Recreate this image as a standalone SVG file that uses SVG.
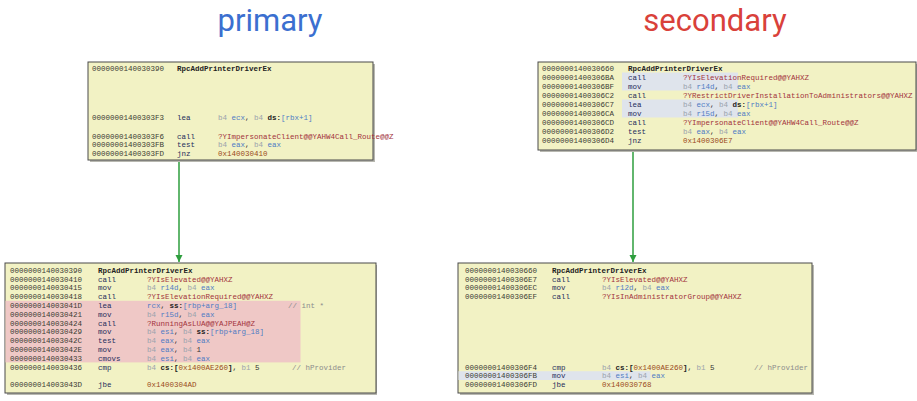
<svg xmlns="http://www.w3.org/2000/svg" width="917" height="401" viewBox="0 0 917 401">
<style>
.title{font-family:Roboto,"Open Sans",sans-serif;font-size:31px;text-anchor:middle}
.t{font-family:"Liberation Mono","DejaVu Sans Mono",monospace;font-size:7.5px}
.a{fill:#3c3c34}
.h{fill:#222;font-weight:bold}
.m{fill:#1f2d5c}
.g{fill:#9aa3ad}
.r{fill:#4f7cc4}
.k{fill:#222;font-weight:bold}
.f{fill:#a3333c}
.j{fill:#9a4a20}
.c{fill:#8c8c8c}
.n{fill:#333}
.box{fill:#f2f2c4;stroke:#4a4a4a;stroke-width:1}
.shadow{fill:#b8b8b0}
.conn{stroke:#2e9e3e;stroke-width:1.5;fill:none}
</style>
<defs>
<marker id="arr" viewBox="0 0 10 10" refX="10" refY="5" markerWidth="5" markerHeight="5" orient="auto">
<path d="M0,0 L10,5 L0,10 z" fill="#2e9e3e"/>
</marker>
</defs>
<rect width="917" height="401" fill="#ffffff"/>
<text class="title" x="270" y="31" fill="#3b6fd0">primary</text>
<text class="title" x="715" y="31" fill="#d9413a">secondary</text>

<g id="connectors">
<line class="conn" x1="179" y1="160" x2="179" y2="262" marker-end="url(#arr)"/>
<line class="conn" x1="633" y1="150" x2="633" y2="262" marker-end="url(#arr)"/>
</g>

<g id="primary-top">
<rect class="shadow" x="90" y="64" width="285" height="98"/>
<rect class="box" x="88" y="62" width="285" height="98"/>
<g class="t">
<text x="92" y="70.7" class="a">0000000140030390</text><text x="177" y="70.7" class="h">RpcAddPrinterDriverEx</text>
<text x="92" y="119.7" class="a">00000001400303F3</text><text x="177" y="119.7" class="m">lea</text><text x="218" y="119.7"><tspan class="g">b4 </tspan><tspan class="r">ecx</tspan><tspan class="n">, </tspan><tspan class="g">b4 </tspan><tspan class="k">ds:</tspan><tspan class="r">[rbx+1]</tspan></text>
<text x="92" y="138.7" class="a">00000001400303F6</text><text x="177" y="138.7" class="m">call</text><text x="218" y="138.7" class="f">?YImpersonateClient@@YAHW4Call_Route@@Z</text>
<text x="92" y="147.3" class="a">00000001400303FB</text><text x="177" y="147.3" class="m">test</text><text x="218" y="147.3"><tspan class="g">b4 </tspan><tspan class="r">eax</tspan><tspan class="n">, </tspan><tspan class="g">b4 </tspan><tspan class="r">eax</tspan></text>
<text x="92" y="155.9" class="a">00000001400303FD</text><text x="177" y="155.9" class="m">jnz</text><text x="218" y="155.9" class="j">0x140030410</text>
</g>
</g>

<g id="secondary-top">
<rect class="shadow" x="540" y="64" width="377" height="88"/>
<rect class="box" x="538" y="62" width="378" height="88"/>
<rect x="622" y="72.5" width="116" height="18" fill="#dfe4ec"/>
<rect x="622" y="99.5" width="116" height="18" fill="#dfe4ec"/>
<g class="t">
<text x="542" y="70.7" class="a">0000000140030660</text><text x="628" y="70.7" class="h">RpcAddPrinterDriverEx</text>
<text x="542" y="79.7" class="a">00000001400306BA</text><text x="628" y="79.7" class="m">call</text><text x="683" y="79.7" class="f">?YIsElevationRequired@@YAHXZ</text>
<text x="542" y="88.7" class="a">00000001400306BF</text><text x="628" y="88.7" class="m">mov</text><text x="683" y="88.7"><tspan class="g">b4 </tspan><tspan class="r">r14d</tspan><tspan class="n">, </tspan><tspan class="g">b4 </tspan><tspan class="r">eax</tspan></text>
<text x="542" y="97.7" class="a">00000001400306C2</text><text x="628" y="97.7" class="m">call</text><text x="683" y="97.7" class="f">?YRestrictDriverInstallationToAdministrators@@YAHXZ</text>
<text x="542" y="106.7" class="a">00000001400306C7</text><text x="628" y="106.7" class="m">lea</text><text x="683" y="106.7"><tspan class="g">b4 </tspan><tspan class="r">ecx</tspan><tspan class="n">, </tspan><tspan class="g">b4 </tspan><tspan class="k">ds:</tspan><tspan class="r">[rbx+1]</tspan></text>
<text x="542" y="115.7" class="a">00000001400306CA</text><text x="628" y="115.7" class="m">mov</text><text x="683" y="115.7"><tspan class="g">b4 </tspan><tspan class="r">r15d</tspan><tspan class="n">, </tspan><tspan class="g">b4 </tspan><tspan class="r">eax</tspan></text>
<text x="542" y="124.7" class="a">00000001400306CD</text><text x="628" y="124.7" class="m">call</text><text x="683" y="124.7" class="f">?YImpersonateClient@@YAHW4Call_Route@@Z</text>
<text x="542" y="133.7" class="a">00000001400306D2</text><text x="628" y="133.7" class="m">test</text><text x="683" y="133.7"><tspan class="g">b4 </tspan><tspan class="r">eax</tspan><tspan class="n">, </tspan><tspan class="g">b4 </tspan><tspan class="r">eax</tspan></text>
<text x="542" y="142.7" class="a">00000001400306D4</text><text x="628" y="142.7" class="m">jnz</text><text x="683" y="142.7" class="j">0x1400306E7</text>
</g>
</g>

<g id="primary-bottom">
<rect class="shadow" x="7" y="265" width="370" height="130"/>
<rect class="box" x="5" y="263" width="371" height="130"/>
<rect x="5.5" y="300.8" width="295" height="61.6" fill="#efc8c6"/>
<g class="t">
<text x="10" y="272.7" class="a">0000000140030390</text><text x="98" y="272.7" class="h">RpcAddPrinterDriverEx</text>
<text x="10" y="281.5" class="a">0000000140030410</text><text x="98" y="281.5" class="m">call</text><text x="147" y="281.5" class="f">?YIsElevated@@YAHXZ</text>
<text x="10" y="290.3" class="a">0000000140030415</text><text x="98" y="290.3" class="m">mov</text><text x="147" y="290.3"><tspan class="g">b4 </tspan><tspan class="r">r14d</tspan><tspan class="n">, </tspan><tspan class="g">b4 </tspan><tspan class="r">eax</tspan></text>
<text x="10" y="299.1" class="a">0000000140030418</text><text x="98" y="299.1" class="m">call</text><text x="147" y="299.1" class="f">?YIsElevationRequired@@YAHXZ</text>
<text x="10" y="307.9" class="a">000000014003041D</text><text x="98" y="307.9" class="m">lea</text><text x="147" y="307.9"><tspan class="r">rcx</tspan><tspan class="n">, </tspan><tspan class="k">ss:</tspan><tspan class="r">[rbp+arg_18]</tspan></text><text x="288" y="307.9" class="c">// int *</text>
<text x="10" y="316.7" class="a">0000000140030421</text><text x="98" y="316.7" class="m">mov</text><text x="147" y="316.7"><tspan class="g">b4 </tspan><tspan class="r">r15d</tspan><tspan class="n">, </tspan><tspan class="g">b4 </tspan><tspan class="r">eax</tspan></text>
<text x="10" y="325.5" class="a">0000000140030424</text><text x="98" y="325.5" class="m">call</text><text x="147" y="325.5" class="f">?RunningAsLUA@@YAJPEAH@Z</text>
<text x="10" y="334.3" class="a">0000000140030429</text><text x="98" y="334.3" class="m">mov</text><text x="147" y="334.3"><tspan class="g">b4 </tspan><tspan class="r">esi</tspan><tspan class="n">, </tspan><tspan class="g">b4 </tspan><tspan class="k">ss:</tspan><tspan class="r">[rbp+arg_18]</tspan></text>
<text x="10" y="343.1" class="a">000000014003042C</text><text x="98" y="343.1" class="m">test</text><text x="147" y="343.1"><tspan class="g">b4 </tspan><tspan class="r">eax</tspan><tspan class="n">, </tspan><tspan class="g">b4 </tspan><tspan class="r">eax</tspan></text>
<text x="10" y="351.9" class="a">000000014003042E</text><text x="98" y="351.9" class="m">mov</text><text x="147" y="351.9"><tspan class="g">b4 </tspan><tspan class="r">eax</tspan><tspan class="n">, </tspan><tspan class="g">b4 </tspan><tspan class="n">1</tspan></text>
<text x="10" y="360.7" class="a">0000000140030433</text><text x="98" y="360.7" class="m">cmovs</text><text x="147" y="360.7"><tspan class="g">b4 </tspan><tspan class="r">esi</tspan><tspan class="n">, </tspan><tspan class="g">b4 </tspan><tspan class="r">eax</tspan></text>
<text x="10" y="369.5" class="a">0000000140030436</text><text x="98" y="369.5" class="m">cmp</text><text x="147" y="369.5"><tspan class="g">b4 </tspan><tspan class="k">cs:[</tspan><tspan class="j">0x1400AE260</tspan><tspan class="k">]</tspan><tspan class="n">, </tspan><tspan class="g">b1 </tspan><tspan class="n">5</tspan></text><text x="292" y="369.5" class="c">// hProvider</text>
<text x="10" y="387.1" class="a">000000014003043D</text><text x="98" y="387.1" class="m">jbe</text><text x="147" y="387.1" class="j">0x1400304AD</text>
</g>
</g>

<g id="secondary-bottom">
<rect class="shadow" x="460" y="265" width="354" height="130"/>
<rect class="box" x="458" y="263" width="354" height="130"/>
<rect x="458.5" y="371.2" width="192" height="8.8" fill="#dfe4ec"/>
<g class="t">
<text x="465" y="272.7" class="a">0000000140030660</text><text x="552" y="272.7" class="h">RpcAddPrinterDriverEx</text>
<text x="465" y="281.5" class="a">00000001400306E7</text><text x="552" y="281.5" class="m">call</text><text x="602" y="281.5" class="f">?YIsElevated@@YAHXZ</text>
<text x="465" y="290.3" class="a">00000001400306EC</text><text x="552" y="290.3" class="m">mov</text><text x="602" y="290.3"><tspan class="g">b4 </tspan><tspan class="r">r12d</tspan><tspan class="n">, </tspan><tspan class="g">b4 </tspan><tspan class="r">eax</tspan></text>
<text x="465" y="299.1" class="a">00000001400306EF</text><text x="552" y="299.1" class="m">call</text><text x="602" y="299.1" class="f">?YIsInAdministratorGroup@@YAHXZ</text>
<text x="465" y="369.5" class="a">00000001400306F4</text><text x="552" y="369.5" class="m">cmp</text><text x="602" y="369.5"><tspan class="g">b4 </tspan><tspan class="k">cs:[</tspan><tspan class="j">0x1400AE260</tspan><tspan class="k">]</tspan><tspan class="n">, </tspan><tspan class="g">b1 </tspan><tspan class="n">5</tspan></text><text x="754" y="369.5" class="c">// hProvider</text>
<text x="465" y="378.3" class="a">00000001400306FB</text><text x="552" y="378.3" class="m">mov</text><text x="602" y="378.3"><tspan class="g">b4 </tspan><tspan class="r">esi</tspan><tspan class="n">, </tspan><tspan class="g">b4 </tspan><tspan class="r">eax</tspan></text>
<text x="465" y="387.1" class="a">00000001400306FD</text><text x="552" y="387.1" class="m">jbe</text><text x="602" y="387.1" class="j">0x140030768</text>
</g>
</g>
</svg>
